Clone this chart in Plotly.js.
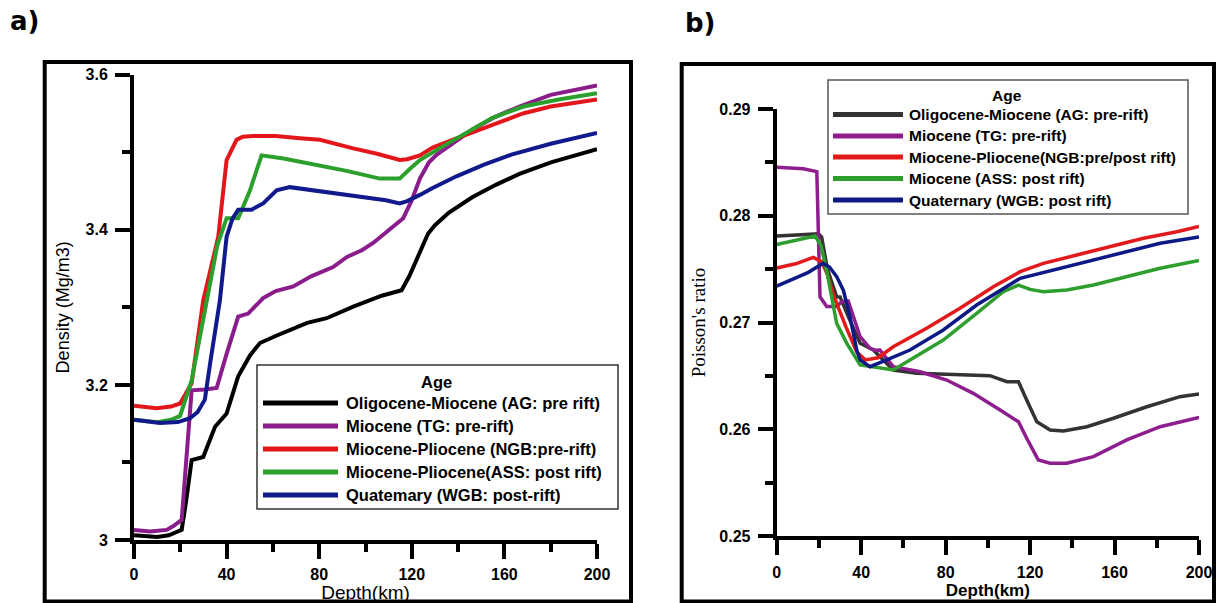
<!DOCTYPE html>
<html>
<head>
<meta charset="utf-8">
<script src="https://cdn.plot.ly/plotly-3.0.1.min.js"></script>
<style>html,body{margin:0;padding:0;background:#fff;}#chart{width:1217px;height:603px;}</style>
</head>
<body>
<div id="chart"></div>
<script>
// ---------- Panel a: Density vs depth ----------
const namesA = ["Oligocene-Miocene (AG: pre rift)", "Miocene (TG: pre-rift)", "Miocene-Pliocene (NGB:pre-rift)", "Miocene-Pliocene(ASS: post rift)", "Quatemary (WGB: post-rift)"];
const aX_AG = [0,5,10,15,20.6,22.5,24.9,29.9,35,40,45,50.1,54.4,61.2,68,74.8,83.2,94.7,107,115.6,118.9,123.5,127,130,135.9,146.1,156.3,166.5,180.1,200];
const aY_AG = [3.006,3.005,3.004,3.006,3.013,3.05,3.103,3.107,3.146,3.163,3.211,3.238,3.254,3.263,3.271,3.28,3.286,3.301,3.315,3.322,3.34,3.37,3.395,3.406,3.422,3.442,3.458,3.472,3.487,3.504];
const aX_TG = [0,7,14.1,17,20.6,22.5,24.9,30.6,35.7,40,45,49.3,55.8,61.2,68.8,76.5,86,92,98.6,103.3,110,116.3,119.8,123.5,127.4,130.8,137.6,146,156.3,166.5,180,200];
const aY_TG = [3.013,3.011,3.013,3.018,3.026,3.1,3.193,3.194,3.196,3.24,3.288,3.292,3.312,3.321,3.327,3.34,3.352,3.365,3.374,3.383,3.4,3.415,3.437,3.466,3.487,3.497,3.511,3.529,3.546,3.559,3.574,3.586];
const aX_NGB = [0,9.8,16,19.9,24.9,29.9,36.4,40,44.3,47,51.5,61.2,71.7,80.3,94.7,105,114.8,118,123.5,129,137.6,146,156.3,168,180,200];
const aY_NGB = [3.173,3.17,3.172,3.176,3.202,3.309,3.391,3.49,3.516,3.52,3.521,3.521,3.518,3.516,3.505,3.498,3.49,3.491,3.496,3.506,3.516,3.526,3.537,3.55,3.559,3.568];
const aX_ASS = [0,10,16,19.9,24.9,31.4,36,40,45,50,55.1,64.6,78.2,91.8,106.2,114.8,119,123.5,132.5,142.7,154.6,168.2,183.5,200];
const aY_ASS = [3.155,3.152,3.155,3.16,3.206,3.309,3.38,3.415,3.415,3.45,3.496,3.492,3.484,3.476,3.466,3.466,3.478,3.49,3.506,3.524,3.544,3.559,3.568,3.576];
const aX_WGB = [0,11.2,19,24.2,27.5,30.6,33,37.1,40,42.5,45,50.8,55.8,61.6,67.3,77.4,88.4,98.6,108.8,114.8,118,123.5,129,139.3,151.2,163,180,200];
const aY_WGB = [3.155,3.151,3.152,3.157,3.165,3.181,3.23,3.309,3.391,3.414,3.426,3.426,3.434,3.451,3.455,3.451,3.447,3.443,3.438,3.434,3.437,3.445,3.454,3.469,3.484,3.497,3.511,3.525];
const colorsA = ["#000000", "#8b1c8b", "#e3161b", "#2ca02c", "#101a8c"];

// ---------- Panel b: Poisson's ratio vs depth ----------
const namesB = ["Oligocene-Miocene (AG: pre-rift)", "Miocene (TG: pre-rift)", "Miocene-Pliocene(NGB:pre/post rift)", "Miocene (ASS: post rift)", "Quaternary (WGB: post rift)"];
const bX_AG = [0,9.4,19.8,21.3,24,28.4,30,34,39.5,45.8,55.2,66.3,83.7,101,109,114.5,118.4,123.2,129.5,135.8,146.9,159.5,175.3,191,200];
const bY_AG = [0.2781,0.2782,0.2783,0.278,0.275,0.2724,0.2724,0.2705,0.26805,0.26742,0.26555,0.26524,0.26517,0.26502,0.26445,0.26445,0.26274,0.2607,0.25993,0.25984,0.26024,0.26103,0.26211,0.26305,0.2633];
const bX_TG = [0,12.6,19,20.5,23.7,28.4,30.8,33.9,39.5,44.2,46.5,48.9,55.2,67.9,80.5,93.1,105.8,114.5,118.4,123.9,129.5,137.4,150,165.8,181.6,200];
const bY_TG = [0.28454,0.2844,0.28413,0.2724,0.2715,0.2715,0.27195,0.272,0.26867,0.26758,0.2674,0.26742,0.26586,0.26539,0.26461,0.26336,0.2618,0.2607,0.25915,0.25712,0.25681,0.25681,0.25743,0.259,0.26024,0.2611];
const bX_NGB = [0,9,17.3,21.3,24,27,33,38,42,48,55.2,71,86.8,102.6,115.3,126.3,142.1,157.9,173.7,189.5,200];
const bY_NGB = [0.2751,0.2755,0.2761,0.2757,0.2745,0.2725,0.2695,0.2672,0.2665,0.2667,0.26773,0.26946,0.27133,0.27335,0.27476,0.27554,0.27632,0.2771,0.27789,0.2785,0.279];
const bX_ASS = [0,9,18.2,21,24,28.4,33.2,39.5,45.8,55.2,63.1,78.9,94.7,107.3,114.5,120,126.3,137.4,150,165.8,181.6,200];
const bY_ASS = [0.2773,0.2777,0.2781,0.2772,0.2745,0.26992,0.26805,0.26602,0.26586,0.26555,0.26649,0.26836,0.27086,0.27289,0.27351,0.2731,0.27289,0.27305,0.27351,0.27429,0.27508,0.2758];
const bX_WGB = [0,7.9,15,22,25,28.4,30,31.6,34.7,37.9,39.5,44.2,52.1,63.1,78.9,94.7,115.3,134.2,150,165.8,181.6,200];
const bY_WGB = [0.2734,0.2741,0.2747,0.27554,0.2752,0.2743,0.2737,0.273,0.27054,0.26742,0.26649,0.26586,0.26649,0.26742,0.2693,0.27164,0.27414,0.27508,0.27586,0.27663,0.27742,0.278];
const colorsB = ["#333333", "#8e1d8e", "#e31a1c", "#2e9f2e", "#0d1a86"];

const xTicks = [0, 40, 80, 120, 160, 200];
const yTicksA = [3, 3.2, 3.4, 3.6];
const yTickTextA = ["3", "3.2", "3.4", "3.6"];
const yTicksB = [0.25, 0.26, 0.27, 0.28, 0.29];
const yTickTextB = ["0.25", "0.26", "0.27", "0.28", "0.29"];

// ---------- geometry helpers (pixel -> paper) ----------
const W = 1217, H = 603;
const PX = p => p / W;
const PY = p => 1 - p / H;

const seriesA = [[aX_AG, aY_AG], [aX_TG, aY_TG], [aX_NGB, aY_NGB], [aX_ASS, aY_ASS], [aX_WGB, aY_WGB]];
const seriesB = [[bX_AG, bY_AG], [bX_TG, bY_TG], [bX_NGB, bY_NGB], [bX_ASS, bY_ASS], [bX_WGB, bY_WGB]];

const traces = [];
seriesA.forEach((s, i) => traces.push({x: s[0], y: s[1], type: 'scatter', mode: 'lines', name: namesA[i],
  line: {color: colorsA[i], width: 4}, xaxis: 'x', yaxis: 'y', showlegend: false, hoverinfo: 'skip'}));
seriesB.forEach((s, i) => traces.push({x: s[0], y: s[1], type: 'scatter', mode: 'lines', name: namesB[i],
  line: {color: colorsB[i], width: 3.5}, xaxis: 'x2', yaxis: 'y2', showlegend: false, hoverinfo: 'skip'}));

const sansA = "Liberation Sans, Arial, sans-serif";
const sansB = "Liberation Sans Narrow, Liberation Sans, Arial, sans-serif";

const axBase = {showgrid: false, zeroline: false, showline: true, linecolor: '#000', linewidth: 4,
  ticks: 'outside', tickcolor: '#000', tickwidth: 4, ticklen: 15, fixedrange: true};

const shapes = [];
const annotations = [];

// Frames around panels
shapes.push({type: 'rect', xref: 'paper', yref: 'paper', x0: PX(44.7), x1: PX(631), y0: PY(601.5), y1: PY(62), line: {color: '#000', width: 4}});
shapes.push({type: 'rect', xref: 'paper', yref: 'paper', x0: PX(681.7), x1: PX(1214), y0: PY(601.5), y1: PY(64), line: {color: '#000', width: 4}});

// Custom legends
function addLegend(box, titleXY, rowsY, lineX, textX, names, colors, font, boxColor) {
  shapes.push({type: 'rect', xref: 'paper', yref: 'paper', x0: PX(box[0]), x1: PX(box[1]), y0: PY(box[3]), y1: PY(box[2]),
    line: {color: boxColor, width: 1.5}, fillcolor: 'rgba(255,255,255,1)'});
  annotations.push({xref: 'paper', yref: 'paper', x: PX(titleXY[0]), y: PY(titleXY[1]), text: '<b>Age</b>', showarrow: false,
    xanchor: 'center', yanchor: 'middle', font: font});
  names.forEach((n, i) => {
    shapes.push({type: 'line', xref: 'paper', yref: 'paper', x0: PX(lineX[0]), x1: PX(lineX[1]), y0: PY(rowsY[i]), y1: PY(rowsY[i]),
      line: {color: colors[i], width: 5}});
    annotations.push({xref: 'paper', yref: 'paper', x: PX(textX), y: PY(rowsY[i]), text: '<b>' + n + '</b>', showarrow: false,
      xanchor: 'left', yanchor: 'middle', font: font});
  });
}
addLegend([257, 618, 365, 509], [437, 382], [403, 426, 449, 472, 495], [263, 338], 344, namesA, colorsA,
  {family: sansA, size: 16.5, color: '#000'}, '#333');
addLegend([828, 1188, 80, 214], [1007, 96], [114.5, 136, 157, 178.5, 200], [833, 903], 907, namesB, colorsB,
  {family: sansB, size: 15.5, color: '#000'}, '#555');

// Panel labels
annotations.push({xref: 'paper', yref: 'paper', x: PX(8), y: PY(21), text: '<b>a)</b>', showarrow: false, xanchor: 'left', yanchor: 'middle',
  font: {family: 'DejaVu Sans, sans-serif', size: 26, color: '#000'}});
annotations.push({xref: 'paper', yref: 'paper', x: PX(683), y: PY(23), text: '<b>b)</b>', showarrow: false, xanchor: 'left', yanchor: 'middle',
  font: {family: 'DejaVu Sans, sans-serif', size: 26, color: '#000'}});

const layout = {
  width: W, height: H,
  margin: {l: 0, r: 0, t: 0, b: 0},
  paper_bgcolor: '#fff', plot_bgcolor: '#fff',
  showlegend: false,
  xaxis: Object.assign({}, axBase, {domain: [PX(134), PX(597)], range: [0, 200], tickvals: xTicks, ticktext: xTicks.map(String),
    minor: {dtick: 20, tick0: 0, ticks: 'outside', ticklen: 8, tickwidth: 4, tickcolor: '#000'},
    tickfont: {family: sansA, size: 16, color: '#000', weight: 'bold'}, ticklabelstandoff: 2,
    title: {text: 'Depth(km)', font: {family: sansA, size: 19, color: '#000'}, standoff: 2}, anchor: 'y'}),
  yaxis: Object.assign({}, axBase, {domain: [PY(540), PY(74.7)], range: [3, 3.6], tickvals: yTicksA, ticktext: yTickTextA,
    minor: {dtick: 0.1, tick0: 3, ticks: 'outside', ticklen: 8, tickwidth: 4, tickcolor: '#000'},
    tickfont: {family: sansA, size: 16, color: '#000', weight: 'bold'}, ticklabelstandoff: 4,
    title: {text: 'Density (Mg/m3)', font: {family: sansA, size: 18, color: '#000'}, standoff: 12}, anchor: 'x'}),
  xaxis2: Object.assign({}, axBase, {domain: [PX(776.7), PX(1199)], range: [0, 200], tickvals: xTicks, ticktext: xTicks.map(String),
    minor: {dtick: 20, tick0: 0, ticks: 'outside', ticklen: 8, tickwidth: 4, tickcolor: '#000'},
    tickfont: {family: sansB, size: 16, color: '#000', weight: 'bold'}, ticklabelstandoff: 4,
    title: {text: '<b>Depth(km)</b>', font: {family: sansB, size: 17, color: '#000'}, standoff: 0}, anchor: 'y2'}),
  yaxis2: Object.assign({}, axBase, {domain: [PY(536), PY(109)], range: [0.25, 0.29], tickvals: yTicksB, ticktext: yTickTextB,
    minor: {dtick: 0.005, tick0: 0.25, ticks: 'outside', ticklen: 8, tickwidth: 4, tickcolor: '#000'},
    tickfont: {family: sansB, size: 16, color: '#000', weight: 'bold'}, ticklabelstandoff: 4,
    title: {text: "Poisson's ratio", font: {family: 'Liberation Serif, Times New Roman, serif', size: 19, color: '#000'}, standoff: 10}, anchor: 'x2'}),
  shapes: shapes,
  annotations: annotations
};

Plotly.newPlot('chart', traces, layout, {displayModeBar: false, staticPlot: true});
</script>
</body>
</html>
